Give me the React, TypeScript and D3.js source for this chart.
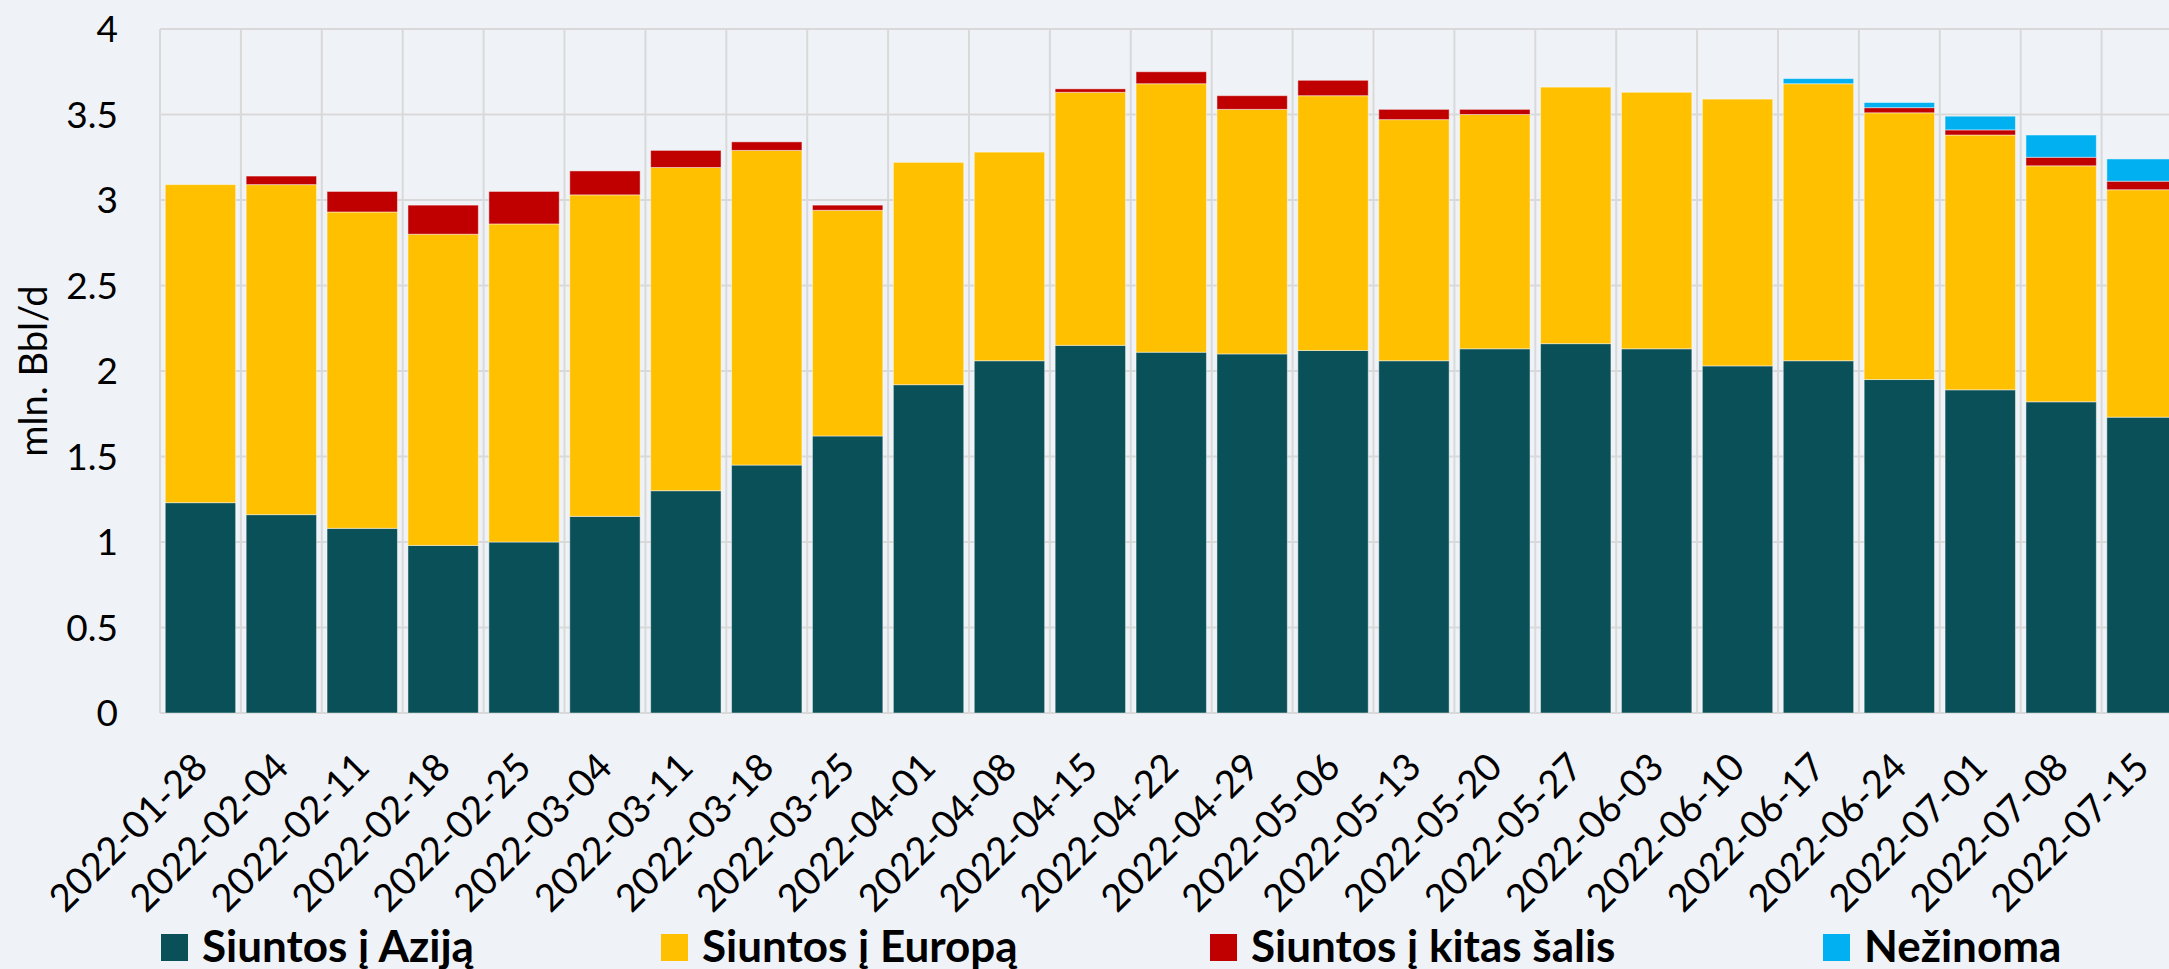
import React from 'react';
import * as d3 from 'd3';

// savaitės (penktadieniai)
const weeks = [
  '2022-01-28', '2022-02-04', '2022-02-11', '2022-02-18', '2022-02-25',
  '2022-03-04', '2022-03-11', '2022-03-18', '2022-03-25', '2022-04-01',
  '2022-04-08', '2022-04-15', '2022-04-22', '2022-04-29', '2022-05-06',
  '2022-05-13', '2022-05-20', '2022-05-27', '2022-06-03', '2022-06-10',
  '2022-06-17', '2022-06-24', '2022-07-01', '2022-07-08', '2022-07-15',
];

const asia = [
  1.23, 1.16, 1.08, 0.98, 1.0, 1.15, 1.3, 1.45, 1.62, 1.92, 2.06, 2.15, 2.11,
  2.1, 2.12, 2.06, 2.13, 2.16, 2.13, 2.03, 2.06, 1.95, 1.89, 1.82, 1.73,
];
const europe = [
  1.86, 1.93, 1.85, 1.82, 1.86, 1.88, 1.89, 1.84, 1.32, 1.3, 1.22, 1.48, 1.57,
  1.43, 1.49, 1.41, 1.37, 1.5, 1.5, 1.56, 1.62, 1.56, 1.49, 1.38, 1.33,
];
const other = [
  0, 0.05, 0.12, 0.17, 0.19, 0.14, 0.1, 0.05, 0.03, 0, 0, 0.02, 0.07, 0.08,
  0.09, 0.06, 0.03, 0, 0, 0, 0, 0.03, 0.03, 0.05, 0.05,
];
const unknown = [
  0, 0, 0, 0, 0, 0, 0, 0, 0, 0, 0, 0, 0, 0, 0, 0, 0, 0, 0, 0, 0.03, 0.03,
  0.08, 0.13, 0.13,
];

const seriesNames = ['Siuntos į Aziją', 'Siuntos į Europą', 'Siuntos į kitas šalis', 'Nežinoma'];
const seriesColors = ['#0a5058', '#ffc000', '#c00000', '#00b0f0'];
const yTicks = [0, 0.5, 1, 1.5, 2, 2.5, 3, 3.5, 4];

const W = 2169;
const H = 969;
const left = 160;
const top = 29;
const bottom = 713;
const right = 2182.5; // plot runs past the image edge, like the original
const legendX = [161, 661, 1210, 1823];
const font = 'Lato, "Open Sans", sans-serif';

export default function App() {
  const rows = weeks.map((w, i) => ({
    week: w,
    s0: asia[i],
    s1: europe[i],
    s2: other[i],
    s3: unknown[i],
  }));
  const stacked = d3.stack().keys(['s0', 's1', 's2', 's3'])(rows as any);

  const x = d3
    .scaleBand()
    .domain(weeks)
    .range([left, right])
    .paddingInner(0.13)
    .paddingOuter(0.065);
  const y = d3.scaleLinear().domain([0, 4]).range([bottom, top]);
  const step = x.step();

  return (
    <div style={{ position: 'absolute', left: 0, top: 0 }}>
      <svg width={W} height={H} style={{ display: 'block' }}>
        <rect width={W} height={H} fill="#eff3f7" />

        {/* grid */}
        <g stroke="#d9d9d9" strokeWidth={2}>
          {yTicks.map((t) => (
            <line key={t} x1={left} x2={right} y1={y(t)} y2={y(t)} />
          ))}
          {d3.range(weeks.length + 1).map((i) => (
            <line key={i} x1={left + i * step} x2={left + i * step} y1={top} y2={bottom} />
          ))}
        </g>

        {/* bars */}
        {stacked.map((layer, si) => (
          <g key={si} fill={seriesColors[si]}>
            {layer.map((d, i) =>
              d[1] - d[0] > 0 ? (
                <rect
                  key={i}
                  x={x(weeks[i])}
                  y={y(d[1])}
                  width={x.bandwidth()}
                  height={y(d[0]) - y(d[1])}
                  stroke="#ffffff"
                  strokeOpacity={0.45}
                  strokeWidth={1}
                />
              ) : null
            )}
          </g>
        ))}

        {/* y axis */}
        <g fontFamily={font} fontSize={37} fill="#000">
          {yTicks.map((t) => (
            <text key={t} x={118} y={y(t)} dy="0.36em" textAnchor="end">
              {d3.format('~g')(t)}
            </text>
          ))}
          <text transform={`translate(47, ${(top + bottom) / 2}) rotate(-90)`} textAnchor="middle" fontSize={38}>
            mln. Bbl/d
          </text>
        </g>

        {/* x axis labels */}
        <g fontFamily={font} fontSize={38} fill="#000">
          {weeks.map((w) => (
            <text
              key={w}
              transform={`translate(${(x(w) as number) + x.bandwidth() / 2}, 760) rotate(-45)`}
              textAnchor="end"
              dy="0.35em"
            >
              {w}
            </text>
          ))}
        </g>

        {/* legend */}
        <g fontFamily={font} fontSize={44} fontWeight="bold" fill="#000">
          {seriesNames.map((n, i) => (
            <g key={n} transform={`translate(${legendX[i]}, 934)`}>
              <rect width={27} height={27} fill={seriesColors[i]} />
              <text x={41} y={28}>
                {n}
              </text>
            </g>
          ))}
        </g>
      </svg>
    </div>
  );
}
